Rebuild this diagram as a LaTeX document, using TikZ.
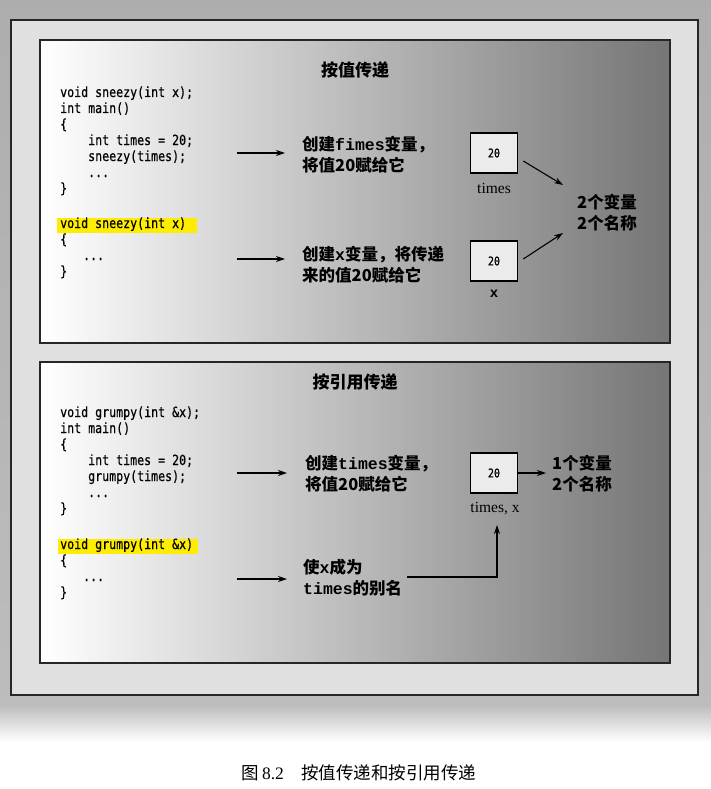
\documentclass[tikz,border=0pt]{standalone}
\usepackage{fontspec}
\setmainfont{Liberation Serif}
\newfontfamily\cjk{Noto Sans CJK SC}
\newfontfamily\codefont[FakeStretch=0.83,FakeBold=0.5]{DejaVu Sans Mono}
\newfontfamily\lmono{Liberation Mono}
\usetikzlibrary{arrows.meta}
\tikzset{
  code/.style={anchor=base west, inner sep=0pt, font=\codefont\fontsize{14}{14}\selectfont},
  title/.style={inner sep=0pt, font=\cjk\bfseries\fontsize{17}{17}\selectfont},
  note/.style={anchor=west, inner sep=0pt, align=left, font=\cjk\bfseries\fontsize{16.5}{21}\selectfont},
  valbox/.style={draw=black, line width=1.6pt, fill=black!8, minimum width=47pt, minimum height=40pt, inner sep=0pt, font=\codefont\fontsize{12}{12}\selectfont},
  vlabel/.style={inner sep=0pt, font=\fontsize{15.5}{15.5}\selectfont},
  arr/.style={line width=1.1pt, -{Stealth[length=9pt,width=6pt]}},
  panel/.style={draw=black!85, line width=1.6pt, left color=white, middle color=black!18, right color=black!54},
  hl/.style={fill=yellow!95!orange, draw=none}
}
\begin{document}
\begin{tikzpicture}[x=1pt,y=-1pt]
\useasboundingbox (0,0) rectangle (711,789);
\fill[white] (0,0) rectangle (711,789);
\shade[top color=black!32, bottom color=black!26] (0,0) rectangle (711,705);
\shade[top color=black!26, bottom color=white] (0,705) rectangle (711,742);
% outer frame
\draw[draw=black!85, line width=1.6pt, fill=black!12] (11,20) rectangle (698,695);
% panels
\draw[panel] (40,40) rectangle (670,343);
\draw[panel] (40,362) rectangle (670,663);

% ---------- panel 1 ----------
\node[title] (t1) at (355,70) {按值传递};
\fill[hl] (57,218) rectangle (197,233);
\node[code] (c1) at (60,97) {void sneezy(int x);};
\node[code] (c2) at (60,113) {int main()};
\node[code] (c3) at (60,129) {\{};
\node[code] (c4) at (88,145) {int times = 20;};
\node[code] (c5) at (88,161) {sneezy(times);};
\node[code] (c6) at (88,177) {...};
\node[code] (c7) at (60,193) {\}};
\node[code] (c8) at (60,228) {void sneezy(int x)};
\node[code] (c9) at (60,244) {\{};
\node[code] (c10) at (83,260) {...};
\node[code] (c11) at (60,276) {\}};

\coordinate (a1) at (237,153);
\coordinate (a2) at (237,259);
\node[note] (n1) at (302,155) {创建{\lmono fimes}变量，\\将值20赋给它};
\node[note] (n2) at (302,265) {创建{\lmono x}变量，将传递\\来的值20赋给它};
\draw[arr] (a1) -- ([xshift=-17pt]n1.west |- a1);
\draw[arr] (a2) -- ([xshift=-17pt]n2.west |- a2);

\node[valbox] (b1) at (494,153) {20};
\node[vlabel] (l1) at (494,188) {times};
\node[valbox] (b2) at (494,261) {20};
\node[vlabel, font=\lmono\bfseries\fontsize{14}{14}\selectfont] (l2) at (494,294) {x};
\node[note] (n3) at (577,213) {2个变量\\2个名称};
\draw[arr] ([xshift=5pt,yshift=-8pt]b1.east) -- ([xshift=-14pt,yshift=28pt]n3.west);
\draw[arr] ([xshift=5pt,yshift=2pt]b2.east) -- ([xshift=-14pt,yshift=-20pt]n3.west);

% ---------- panel 2 ----------
\node[title] (t2) at (355,382) {按引用传递};
\fill[hl] (58,539) rectangle (198,554);
\node[code] (d1) at (60,417) {void grumpy(int \&x);};
\node[code] (d2) at (60,433) {int main()};
\node[code] (d3) at (60,449) {\{};
\node[code] (d4) at (88,465) {int times = 20;};
\node[code] (d5) at (88,481) {grumpy(times);};
\node[code] (d6) at (88,497) {...};
\node[code] (d7) at (60,513) {\}};
\node[code] (d8) at (60,549) {void grumpy(int \&x)};
\node[code] (d9) at (60,565) {\{};
\node[code] (d10) at (83,581) {...};
\node[code] (d11) at (60,597) {\}};

\coordinate (a3) at (237,473);
\coordinate (a4) at (237,579);
\node[note] (m1) at (305,474) {创建{\lmono\bfseries times}变量，\\将值20赋给它};
\node[note] (m2) at (303,578) {使{\lmono x}成为\\{\lmono\bfseries times}的别名};
\draw[arr] (a3) -- ([xshift=-18pt]m1.west |- a3);
\draw[arr] (a4) -- ([xshift=-16pt]m2.west |- a4);

\node[valbox] (b3) at (494,473) {20};
\node[vlabel] (l3) at (495,509) {times, x};
\node[note] (m3) at (552,474) {1个变量\\2个名称};
\draw[arr] (b3.east) -- ([xshift=-6pt]b3.east -| m3.west);
\coordinate (k1) at (407,577);
\coordinate (k2) at (497,525);
\draw[arr] (k1) -| (k2);

% caption
\node[inner sep=0pt, font=\cjk\fontsize{17.5}{17.5}\selectfont] (cap) at (359,773) {图\,{\rmfamily 8.2}\quad 按值传递和按引用传递};
\end{tikzpicture}
\end{document}
